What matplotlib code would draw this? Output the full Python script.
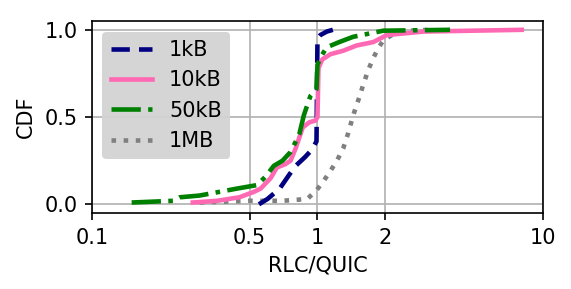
import matplotlib
matplotlib.use("Agg")
import matplotlib.pyplot as plt
from matplotlib.ticker import FixedLocator, FixedFormatter, NullLocator

# CDF points (RLC/QUIC ratio, cumulative fraction)
x_1kb = [0.55, 0.60, 0.68, 0.75, 0.80, 0.88, 0.94, 0.99, 1.00, 1.03, 1.10, 1.17]
y_1kb = [0.00, 0.03, 0.09, 0.17, 0.22, 0.27, 0.31, 0.36, 0.95, 0.97, 0.99, 1.00]

x_10kb = [0.28, 0.36, 0.45, 0.52, 0.56, 0.62, 0.66, 0.72, 0.76, 0.80, 0.86, 0.92,
          0.98, 1.00, 1.01, 1.05, 1.14, 1.30, 1.49, 1.77, 2.03, 2.95, 8.05]
y_10kb = [0.01, 0.02, 0.04, 0.07, 0.09, 0.15, 0.21, 0.23, 0.25, 0.32, 0.44, 0.47,
          0.48, 0.50, 0.78, 0.83, 0.86, 0.88, 0.91, 0.93, 0.97, 0.99, 1.00]

x_50kb = [0.15, 0.23, 0.245, 0.30, 0.44, 0.54, 0.59, 0.64, 0.70, 0.76, 0.83, 0.87,
          0.93, 0.99, 1.00, 1.04, 1.10, 1.25, 1.44, 1.96, 3.87]
y_50kb = [0.01, 0.02, 0.04, 0.05, 0.09, 0.11, 0.16, 0.22, 0.25, 0.30, 0.40, 0.51,
          0.62, 0.66, 0.80, 0.85, 0.90, 0.93, 0.96, 0.995, 1.00]

x_1mb = [0.30, 0.50, 0.70, 0.90, 0.99, 1.06, 1.14, 1.22, 1.30, 1.37, 1.44, 1.52,
         1.60, 1.68, 1.77, 1.87, 1.96, 2.20, 2.57, 3.15]
y_1mb = [0.01, 0.02, 0.02, 0.03, 0.08, 0.13, 0.19, 0.25, 0.32, 0.41, 0.51, 0.60,
         0.69, 0.77, 0.84, 0.90, 0.94, 0.98, 0.995, 1.00]

x_ticks = [0.1, 0.5, 1, 2, 10]
x_tick_labels = ["0.1", "0.5", "1", "2", "10"]
y_ticks = [0.0, 0.5, 1.0]

fig, ax = plt.subplots(figsize=(5.71 / 1.5, 2.89 / 1.5), dpi=150)
fig.subplots_adjust(left=0.161, right=0.951, top=0.927, bottom=0.263)

ax.plot(x_1kb, y_1kb, color="navy", linestyle=(0, (4, 2)), linewidth=2.2, label="1kB", zorder=3)
ax.plot(x_10kb, y_10kb, color="#ff69b4", linestyle="-", linewidth=2.2, label="10kB", zorder=4)
ax.plot(x_50kb, y_50kb, color="green", linestyle="-.", linewidth=2.2, label="50kB", zorder=5)
ax.plot(x_1mb, y_1mb, color="gray", linestyle=":", linewidth=2.2, label="1MB", zorder=2)

ax.set_xscale("log")
ax.set_xlim(0.1, 10)
ax.set_ylim(-0.05, 1.05)
ax.xaxis.set_major_locator(FixedLocator(x_ticks))
ax.xaxis.set_major_formatter(FixedFormatter(x_tick_labels))
ax.xaxis.set_minor_locator(NullLocator())
ax.set_yticks(y_ticks)
ax.tick_params(labelsize=10)
ax.grid(True, color="#b0b0b0", linewidth=0.8)
ax.set_axisbelow(True)

ax.set_xlabel("RLC/QUIC", fontsize=10)
ax.set_ylabel("CDF", fontsize=10)

leg = ax.legend(loc="upper left", fontsize=10, handlelength=2.0,
                facecolor="#d3d3d3", edgecolor="none", framealpha=0.95)

fig.savefig("out.png", dpi=150)
